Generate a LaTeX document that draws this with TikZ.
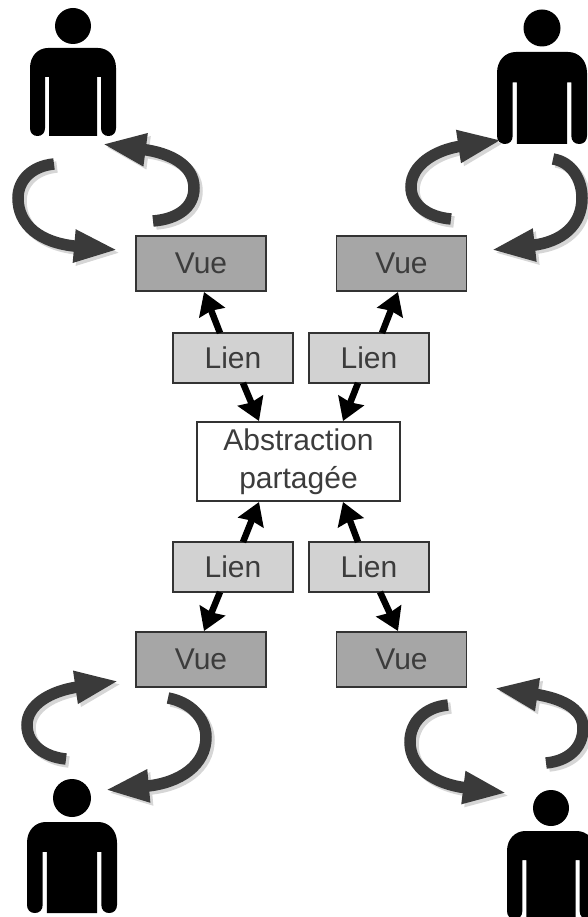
\documentclass[tikz,border=0pt]{standalone}
\usepackage{fontspec}
\setmainfont{Liberation Sans}
\usetikzlibrary{arrows.meta,calc}
\definecolor{vuefill}{HTML}{A6A6A6}
\definecolor{lienfill}{HTML}{D2D2D2}
\definecolor{edgecol}{HTML}{333333}
\definecolor{textcol}{HTML}{3C3C3C}
\definecolor{bandcol}{HTML}{3A3A3A}
\definecolor{bandshadow}{HTML}{D6D6D6}
\tikzset{
  boxbase/.style={draw=edgecol,line width=1.6pt,outer sep=0pt,inner sep=0pt,align=center,text=textcol,
    font=\fontsize{30}{38}\selectfont},
  vuebox/.style={boxbase,fill=vuefill,minimum width=130pt,minimum height=55pt},
  lienbox/.style={boxbase,fill=lienfill,minimum width=120pt,minimum height=50pt},
  absbox/.style={boxbase,fill=white,minimum width=203pt,minimum height=79pt},
  linkarrow/.style={draw=black,line width=6.5pt,-{Stealth[length=22pt,width=27pt,inset=2pt]}},
  band/.style={draw=bandcol,fill=none,line width=11.5pt,-{Triangle[length=44pt,width=30pt,fill=bandcol]}},
  bandsh/.style={draw=bandshadow,fill=none,line width=11.5pt,-{Triangle[length=44pt,width=30pt,fill=bandshadow]}},
}
\newcommand{\loopc}[7]{%
  \draw[bandsh] ([shift={(3,3)}]#1) .. controls ([shift={(3,3)}]#2) and ([shift={(3,3)}]#3) .. ([shift={(3,3)}]#4)
     .. controls ([shift={(3,3)}]#5) and ([shift={(3,3)}]#6) .. ([shift={(3,3)}]#7);
  \draw[band] (#1) .. controls (#2) and (#3) .. (#4) .. controls (#5) and (#6) .. (#7);
}
\newcommand{\personfig}[6]{% cx, body top, width, height, head cy, head r
  \fill[black] (#1,#5) circle[radius=#6];
  \begin{scope}[shift={(#1,#2)},xscale={#3/86},yscale={#4/88}]
    \fill[black] (-25,0) -- (25,0) .. controls (35,0) and (43,8) .. (43,20) -- (43,80)
      .. controls (43,85) and (40,88) .. (35.5,88) .. controls (31,88) and (28,85) .. (28,80)
      -- (28,29) -- (24,29) -- (24,88) -- (-24,88) -- (-24,29) -- (-28,29) -- (-28,80)
      .. controls (-28,85) and (-31,88) .. (-35.5,88) .. controls (-40,88) and (-43,85) .. (-43,80)
      -- (-43,20) .. controls (-43,8) and (-35,0) .. (-25,0) -- cycle;
  \end{scope}
}
\begin{document}
\begin{tikzpicture}[x=1pt,y=-1pt]
\useasboundingbox (0,0) rectangle (588,917);
\clip (0,0) rectangle (588,917);

\personfig{73}{48}{86}{88}{26}{18}
\personfig{542}{52}{90}{92}{28}{18.5}
\personfig{72}{822}{90}{91}{798}{19}
\personfig{551}{831}{88}{88}{808}{18}

\coordinate (s1) at (54,164);   \coordinate (t1) at (118,250);
\coordinate (s2) at (153,221);  \coordinate (t2) at (102,144);
\coordinate (s3) at (451,219);  \coordinate (t3) at (502,140);
\coordinate (s4) at (553,159);  \coordinate (t4) at (491,250);
\coordinate (s5) at (66,759);   \coordinate (t5) at (119,681);
\coordinate (s6) at (168,698);  \coordinate (t6) at (105,790);
\coordinate (s7) at (448,705);  \coordinate (t7) at (507,793);
\coordinate (s8) at (546,763);  \coordinate (t8) at (494,688);

\loopc{s1}{32,166}{18,180}{18,198}{18,225}{40,243}{t1}
\loopc{s2}{178,219}{194,207}{194,188}{194,165}{170,153}{t2}
\loopc{s3}{428,217}{411,205}{411,187}{411,165}{435,150}{t3}
\loopc{s4}{572,162}{582,180}{582,198}{582,225}{562,242}{t4}
\loopc{s5}{45,757}{27,745}{27,725}{27,705}{50,691}{t5}
\loopc{s6}{190,702}{206,718}{206,737}{206,765}{180,783}{t6}
\loopc{s7}{425,707}{410,722}{410,742}{410,768}{435,784}{t7}
\loopc{s8}{568,761}{583,748}{583,728}{583,708}{560,698}{t8}

\node[vuebox] (v1) at (201,263.5) {Vue};
\node[vuebox] (v2) at (401.5,263.5) {Vue};
\node[vuebox] (v3) at (201,659.5) {Vue};
\node[vuebox] (v4) at (401.5,659.5) {Vue};
\node[lienbox] (l1) at (233,358) {Lien};
\node[lienbox] (l2) at (369,358) {Lien};
\node[lienbox] (l3) at (233,567) {Lien};
\node[lienbox] (l4) at (369,567) {Lien};
\node[absbox] (abs) at (298.5,461.5) {Abstraction\\partagée};

\draw[linkarrow] ($(l1.north)+(-13,0)$) -- ($(v1.south)+(3,1)$);
\draw[linkarrow] ($(l2.north)+(13,0)$) -- ($(v2.south)+(-3.5,1)$);
\draw[linkarrow] ($(l1.south)+(10,0)$) -- ($(abs.north)+(-39.5,-1)$);
\draw[linkarrow] ($(l2.south)+(-11,0)$) -- ($(abs.north)+(44.5,-1)$);
\draw[linkarrow] ($(l3.north)+(10,0)$) -- ($(abs.south)+(-39.5,1)$);
\draw[linkarrow] ($(l4.north)+(-11,0)$) -- ($(abs.south)+(44.5,1)$);
\draw[linkarrow] ($(l3.south)+(-13,0)$) -- ($(v3.north)+(3,-1)$);
\draw[linkarrow] ($(l4.south)+(11,0)$) -- ($(v4.north)+(-3.5,-1)$);
\end{tikzpicture}
\end{document}
